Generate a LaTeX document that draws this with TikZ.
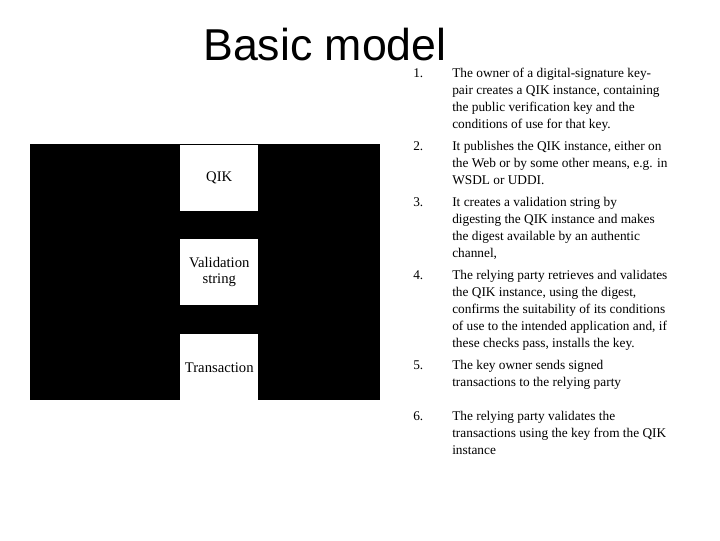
\documentclass[tikz,border=0pt]{standalone}
\usepackage{fontspec}
\setmainfont{Liberation Serif}
\newfontfamily\arialf{Liberation Sans}
\begin{document}
\begin{tikzpicture}[x=0.75pt,y=-0.75pt,
  card/.style={fill=white,draw=none,minimum width=58.5pt,minimum height=49.5pt,inner sep=0pt,font=\fontsize{11}{12}\selectfont},
  num/.style={anchor=north west,inner sep=0pt,font=\fontsize{10}{12.75}\selectfont},
  item/.style={anchor=north west,inner sep=0pt,align=left,font=\fontsize{10}{12.75}\selectfont}]
\useasboundingbox (0,0) rectangle (720,540);
\fill[black] (30,144) rectangle (380,400);
\node[card,anchor=north west] (qik) at (180,145) {QIK};
\node[card,anchor=north west,align=center] (val) at (180,239) {Validation\\string};
\node[card,anchor=north west] (tra) at (180,334) {Transaction};
\node[anchor=base west,inner sep=0pt,font=\arialf\fontsize{33.5}{34}\selectfont] (title) at (203,60) {Basic model};
\foreach \n/\y/\t in {
 1/68/{The owner of a digital-signature key-\\pair creates a QIK instance, containing\\the public verification key and the\\conditions of use for that key.},
 2/141/{It publishes the QIK instance, either on\\the Web or by some other means, e.g. in\\WSDL or UDDI.},
 3/197/{It creates a validation string by\\digesting the QIK instance and makes\\the digest available by an authentic\\channel,},
 4/270/{The relying party retrieves and validates\\the QIK instance, using the digest,\\confirms the suitability of its conditions\\of use to the intended application and, if\\these checks pass, installs the key.},
 5/360/{The key owner sends signed\\transactions to the relying party},
 6/411/{The relying party validates the\\transactions using the key from the QIK\\instance}}
{
 \node[num] (n\n) at (413,\y) {\n.};
 \node[item] (t\n) at (452,\y) {\t};
}
\end{tikzpicture}
\end{document}
